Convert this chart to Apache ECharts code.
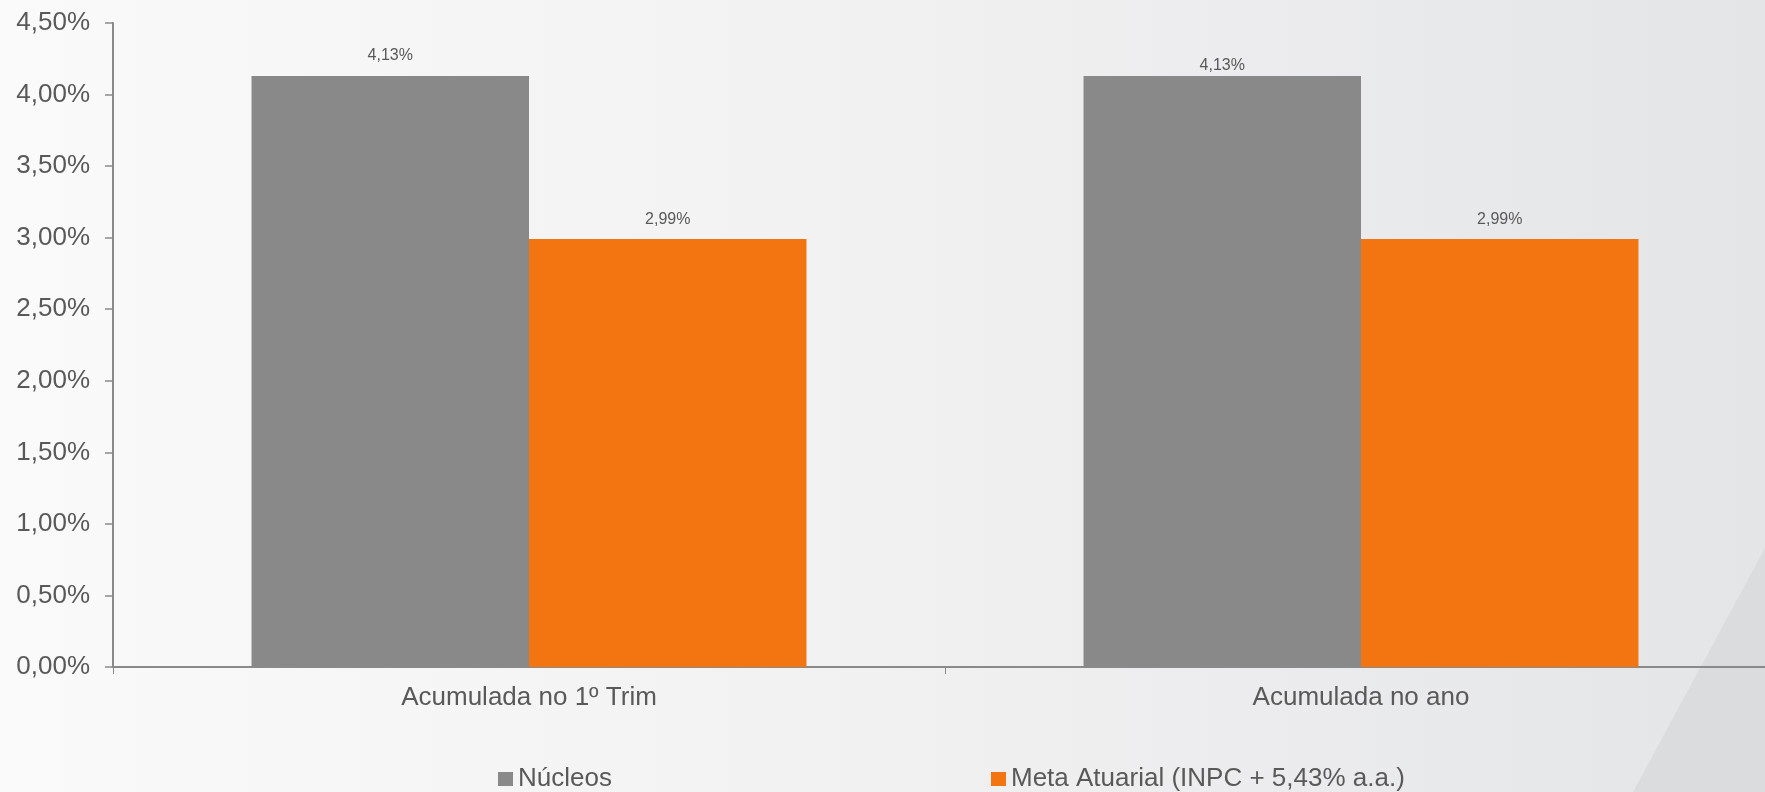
<!DOCTYPE html>
<html>
<head>
<meta charset="utf-8">
<style>
  html, body { margin: 0; padding: 0; }
  #chart { width: 1765px; height: 792px; }
</style>
<script src="https://cdn.jsdelivr.net/npm/echarts@6/dist/echarts.min.js"></script>
</head>
<body>
<div id="chart"></div>
<script>
// Rentabilidade acumulada: Núcleos vs Meta Atuarial
const categories = ['Acumulada no 1º Trim', 'Acumulada no ano'];
const seriesNames = ['Núcleos', 'Meta Atuarial (INPC + 5,43% a.a.)'];
const nucleosValues = [4.13, 4.13];
const metaValues = [2.99, 2.99];
const yTicks = { min: 0, max: 4.5, step: 0.5 };

const FONT = '"Liberation Sans", Arial, sans-serif';
const TEXT = '#595959';
const AXIS = '#8a8a8a';
const GRAY = '#898989';
const ORANGE = '#f27511';

const pct = v => v.toFixed(2).replace('.', ',') + '%';

// the second Núcleos label sits closer to its bar
function withLabelDistance(values, overrides) {
  return values.map((v, i) =>
    overrides[i] !== undefined ? { value: v, label: { distance: overrides[i] } } : v);
}

const chart = echarts.init(document.getElementById('chart'), null, { renderer: 'canvas' });
const W = 1765, H = 792;

chart.setOption({
  backgroundColor: {
    type: 'linear', x: 0, y: 0, x2: 1, y2: 0,
    colorStops: [
      { offset: 0, color: '#fafafa' },
      { offset: 0.5, color: '#f1f1f2' },
      { offset: 1, color: '#e4e5e7' }
    ]
  },
  animation: false,
  textStyle: { fontFamily: FONT },
  graphic: [
    {
      type: 'polygon',
      z: -10,
      silent: true,
      shape: { points: [[1633, H], [W, 548], [W, H]] },
      style: { fill: '#dbdcde' }
    }
  ],
  // plot area runs slightly past the right edge of the canvas
  grid: {
    left: 113, top: 23, width: 1664, bottom: 125,
    containLabel: false, outerBoundsMode: 'none'
  },
  legend: [
    {
      data: [seriesNames[0]],
      left: 493, top: 761,
      icon: 'rect', itemWidth: 15, itemHeight: 14, itemGap: 0,
      textStyle: { fontSize: 26, color: TEXT, fontFamily: FONT, lineHeight: 26 }
    },
    {
      data: [seriesNames[1]],
      left: 986, top: 761,
      icon: 'rect', itemWidth: 15, itemHeight: 14, itemGap: 0,
      textStyle: { fontSize: 26, color: TEXT, fontFamily: FONT, lineHeight: 26 }
    }
  ],
  xAxis: {
    type: 'category',
    data: categories,
    axisLine: { show: true, lineStyle: { color: AXIS, width: 2 } },
    axisTick: { show: true, length: 7, lineStyle: { color: AXIS, width: 1 } },
    axisLabel: { fontSize: 26, color: TEXT, margin: 18, fontFamily: FONT },
    splitLine: { show: false }
  },
  yAxis: {
    type: 'value',
    min: yTicks.min, max: yTicks.max, interval: yTicks.step,
    axisLine: { show: true, lineStyle: { color: AXIS, width: 2 } },
    axisTick: { show: true, length: 8, lineStyle: { color: AXIS, width: 1.5 } },
    axisLabel: { fontSize: 26, color: TEXT, margin: 23, fontFamily: FONT, formatter: pct },
    splitLine: { show: false }
  },
  series: [
    {
      name: seriesNames[0],
      type: 'bar',
      data: withLabelDistance(nucleosValues, { 1: 2 }),
      barGap: '0%',
      barCategoryGap: '33.3%',
      itemStyle: { color: GRAY },
      label: {
        show: true, position: 'top', distance: 12,
        fontSize: 16, color: TEXT, fontFamily: FONT,
        formatter: p => pct(p.value)
      }
    },
    {
      name: seriesNames[1],
      type: 'bar',
      data: metaValues,
      barGap: '0%',
      barCategoryGap: '33.3%',
      itemStyle: { color: ORANGE },
      label: {
        show: true, position: 'top', distance: 12,
        fontSize: 16, color: TEXT, fontFamily: FONT,
        formatter: p => pct(p.value)
      }
    }
  ]
});
</script>
</body>
</html>
